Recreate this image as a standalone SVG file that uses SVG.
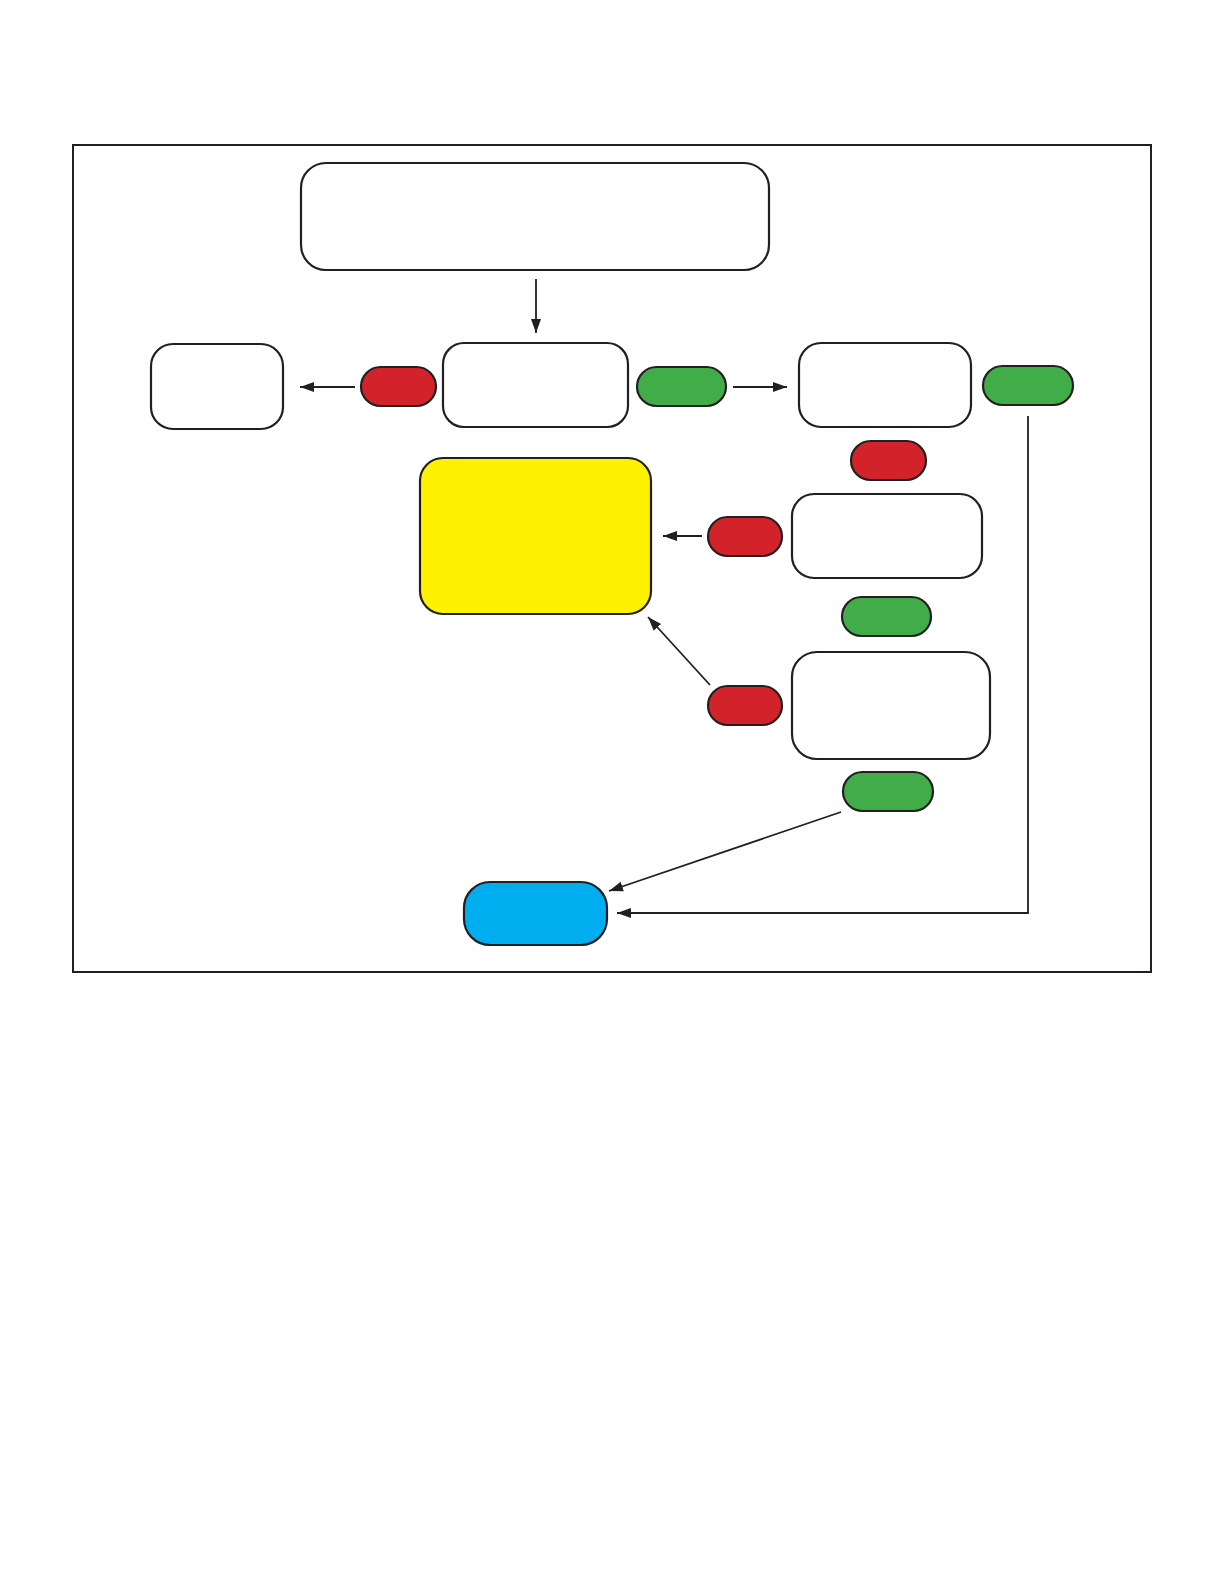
<svg xmlns="http://www.w3.org/2000/svg" width="1224" height="1584" viewBox="0 0 1224 1584">
<style>
.box{fill:#fff;stroke:#231f20;stroke-width:2.2}
.red{fill:#d2232a;stroke:#231f20;stroke-width:2.2}
.green{fill:#41ad49;stroke:#231f20;stroke-width:2.2}
.yellow{fill:#fff200;stroke:#231f20;stroke-width:2.2}
.blue{fill:#00aeef;stroke:#231f20;stroke-width:2.2}
.conn{fill:none;stroke:#231f20;stroke-width:1.8}
</style>
<defs>
<marker id="ah" markerUnits="userSpaceOnUse" markerWidth="16" markerHeight="12" viewBox="0 0 16 12" refX="14" refY="6" orient="auto">
<path d="M0,1 L14,6 L0,11 Z" fill="#231f20"/>
</marker>
</defs>
<rect width="1224" height="1584" fill="#fff"/>
<rect id="frame" x="73" y="145" width="1078" height="827" fill="none" stroke="#231f20" stroke-width="2"/>
<g id="top"><rect class="box" x="301" y="163" width="468" height="107" rx="25"/></g>
<g id="middle"><rect class="box" x="443" y="343" width="185" height="84" rx="21"/></g>
<g id="left"><rect class="box" x="151" y="344" width="132" height="85" rx="22"/></g>
<g id="red1"><rect class="red" x="361" y="367" width="75" height="39" rx="19.5"/></g>
<g id="green1"><rect class="green" x="637" y="367" width="89" height="39" rx="19.5"/></g>
<g id="right1"><rect class="box" x="799" y="343" width="172" height="84" rx="22"/></g>
<g id="green2"><rect class="green" x="983" y="366" width="90" height="39" rx="19.5"/></g>
<g id="red2"><rect class="red" x="851" y="441" width="75" height="39" rx="19.5"/></g>
<g id="right2"><rect class="box" x="792" y="494" width="190" height="84" rx="22"/></g>
<g id="green3"><rect class="green" x="842" y="597" width="89" height="39" rx="19.5"/></g>
<g id="yellow"><rect class="yellow" x="420" y="458" width="231" height="156" rx="23"/></g>
<g id="red3"><rect class="red" x="708" y="517" width="74" height="39" rx="19.5"/></g>
<g id="red4"><rect class="red" x="708" y="686" width="74" height="39" rx="19.5"/></g>
<g id="right3"><rect class="box" x="792" y="652" width="198" height="107" rx="25"/></g>
<g id="green4"><rect class="green" x="843" y="772" width="90" height="39" rx="19.5"/></g>
<g id="blue"><rect class="blue" x="464" y="882" width="143" height="63" rx="26"/></g>
<g id="connectors">
<path class="conn" d="M536,279 L536,333" marker-end="url(#ah)"/>
<path class="conn" d="M355,387 L300,387" marker-end="url(#ah)"/>
<path class="conn" d="M733,387 L787,387" marker-end="url(#ah)"/>
<path class="conn" d="M702,536 L663,536" marker-end="url(#ah)"/>
<path class="conn" d="M710,685 L648,617" marker-end="url(#ah)"/>
<path class="conn" d="M841,812 L609,891" marker-end="url(#ah)"/>
<path class="conn" d="M1028,416 L1028,913 L617,913" marker-end="url(#ah)"/>
</g>
</svg>
